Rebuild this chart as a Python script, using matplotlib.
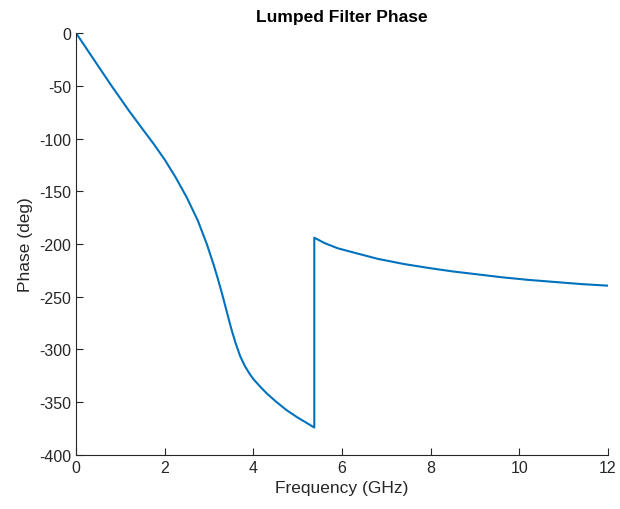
import matplotlib

matplotlib.use("Agg")
import matplotlib.pyplot as plt

# phase, below and above the jump near 5.375 GHz
freq_low = [0, 0.4, 0.8, 1.2, 1.5, 1.75, 2.0, 2.25, 2.5, 2.75, 2.95, 3.1,
            3.2, 3.3, 3.4, 3.5, 3.6, 3.7, 3.8, 3.9, 4.0, 4.15, 4.3, 4.5,
            4.75, 5.0, 5.2, 5.375]
phase_low = [0, -25, -50, -74, -91, -105, -120, -137, -156, -178, -200, -219,
             -233, -248, -264, -280, -294, -306, -315, -322, -328, -335,
             -341.5, -349, -357.5, -364.5, -369.5, -374]
freq_high = [5.375, 5.6, 5.9, 6.3, 6.8, 7.4, 8.0, 8.5, 9.0, 9.6, 10.2, 10.8,
             11.4, 12.0]
phase_high = [-194, -199, -204, -208.5, -214, -219, -223, -226, -228.5,
              -231.5, -234, -236, -238, -239.5]

freq = freq_low + freq_high
phase = phase_low + phase_high

x_ticks = [0, 2, 4, 6, 8, 10, 12]
y_ticks = [-400, -350, -300, -250, -200, -150, -100, -50, 0]

plt.rcParams["font.family"] = ["Liberation Sans", "DejaVu Sans"]
plt.rcParams["axes.unicode_minus"] = False
dark = "#262626"

fig = plt.figure(figsize=(6.2, 5.1), dpi=100)
ax = fig.add_axes([0.1226, 0.1059, 0.858, 0.8274])
ax.plot(freq, phase, color="#0072BD", linewidth=1.5)

ax.set_xlim(0, 12)
ax.set_ylim(-400, 0)
ax.set_xticks(x_ticks)
ax.set_yticks(y_ticks)
ax.tick_params(direction="in", length=5, width=0.8, colors=dark,
               labelsize=11.5, labelcolor=dark)
for side in ["top", "right"]:
    ax.spines[side].set_visible(False)
for side in ["left", "bottom"]:
    ax.spines[side].set_color(dark)
    ax.spines[side].set_linewidth(0.8)

ax.set_xlabel("Frequency (GHz)", fontsize=12.5, color=dark, labelpad=4)
ax.set_ylabel("Phase (deg)", fontsize=12.5, color=dark, labelpad=4)
ax.set_title("Lumped Filter Phase", fontsize=12.5, fontweight="bold", pad=9)

fig.savefig("out.png", dpi=100)
